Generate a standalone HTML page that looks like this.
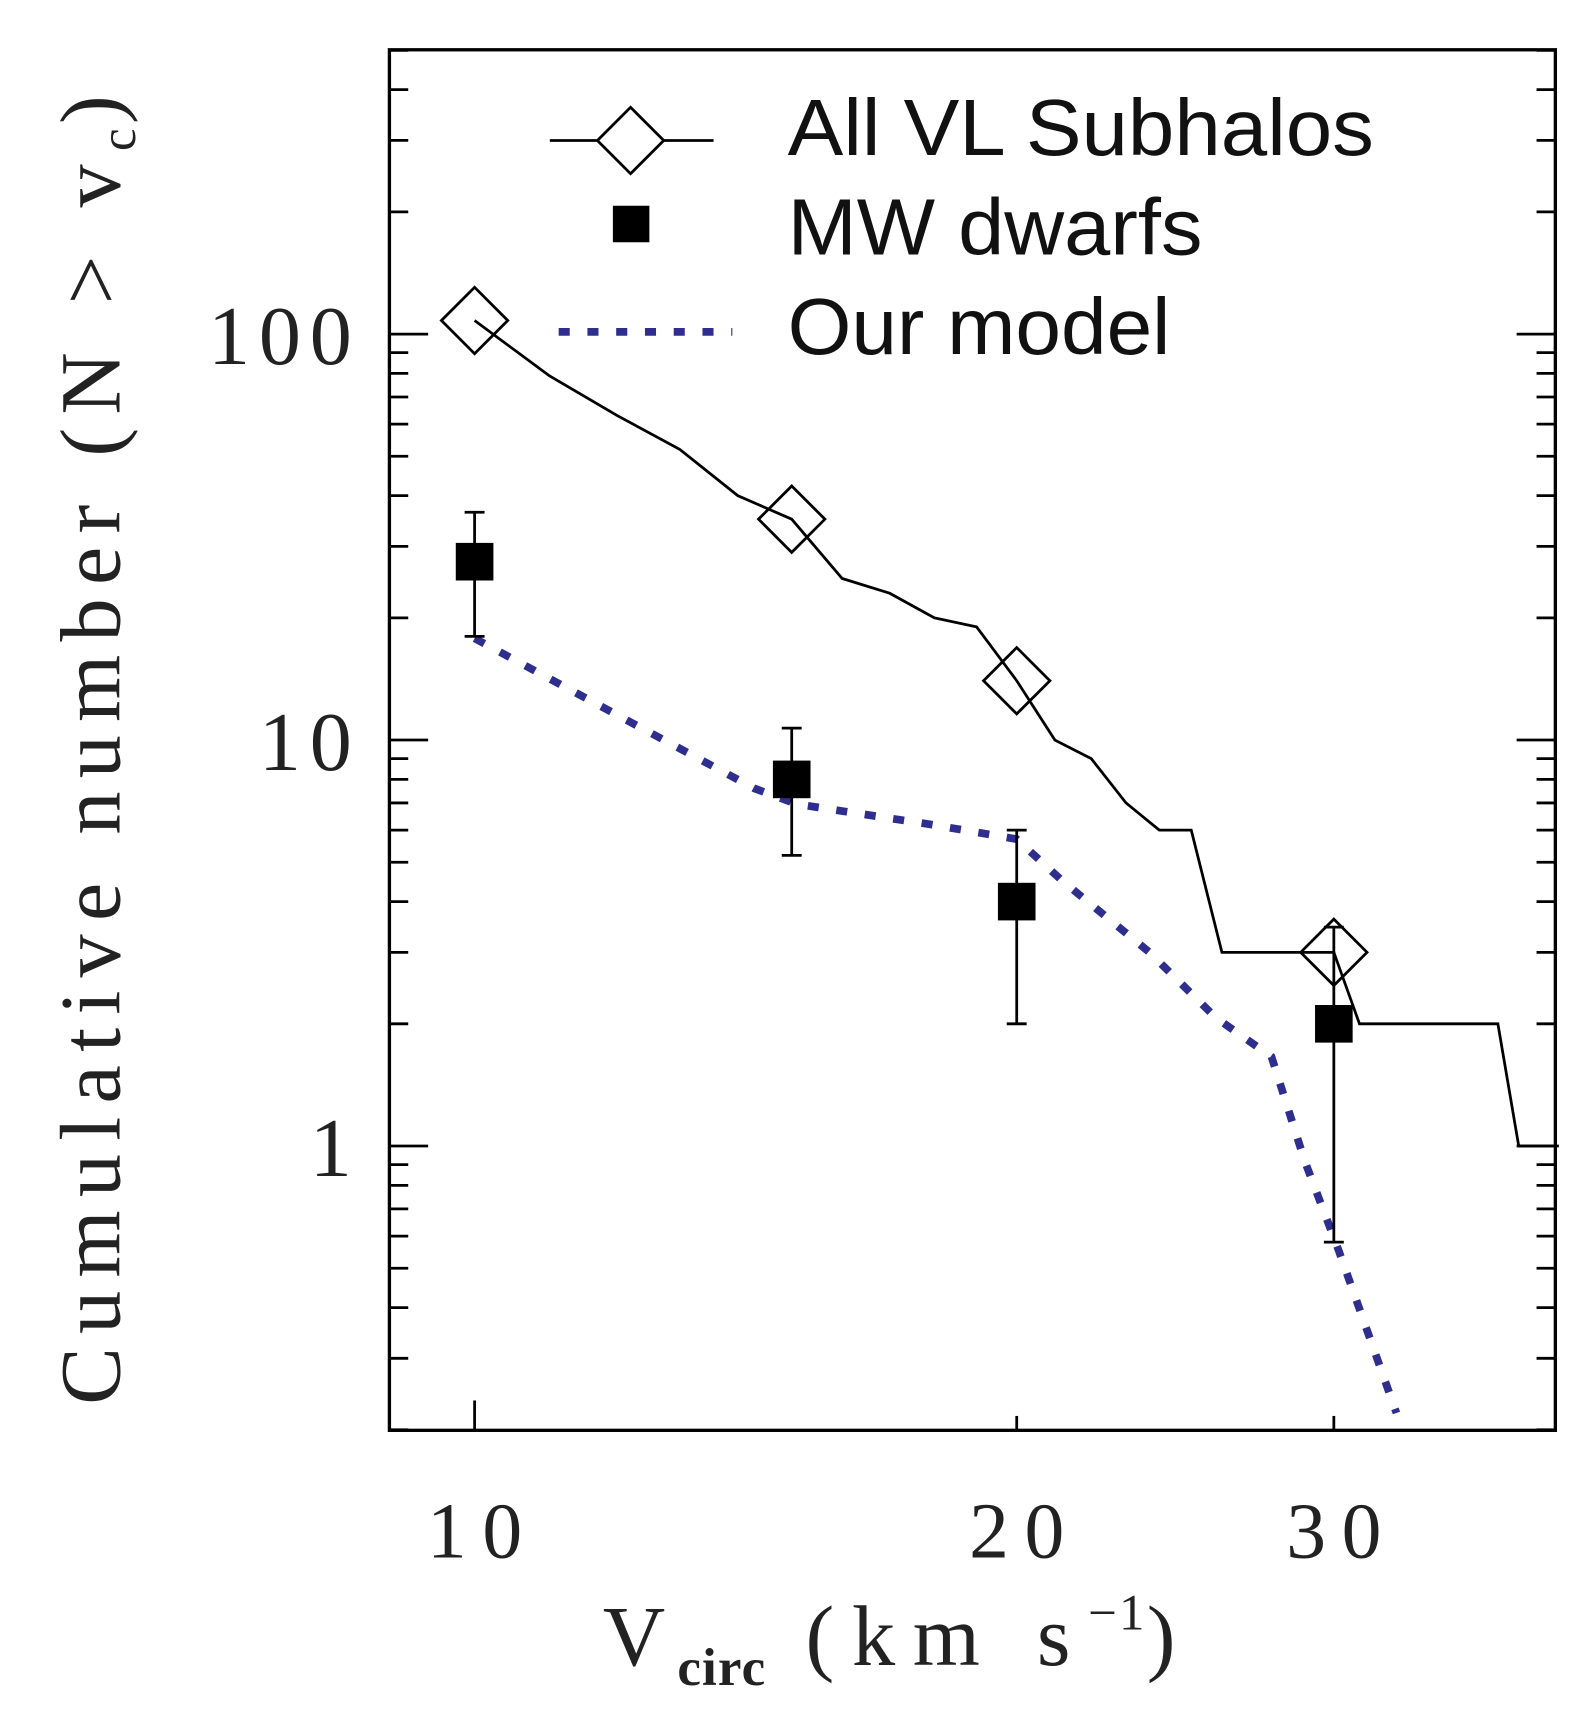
<!DOCTYPE html>
<html><head><meta charset="utf-8"><style>
html,body{margin:0;padding:0;background:#fff;}
svg{display:block;}
.tk{font-family:"Liberation Serif",serif;fill:#222;}
.lg{font-family:"Liberation Sans",sans-serif;fill:#111;}
</style></head><body>
<svg id="chart" width="1593" height="1729" viewBox="0 0 1440 1563" xmlns="http://www.w3.org/2000/svg">
<rect x="0" y="0" width="1440" height="1563" fill="#fff"/>
<g id="marks"></g>
<rect x="352" y="45" width="1054" height="1248" fill="none" stroke="#000" stroke-width="3"/>
<g id="ticks"></g>
<g>
  <line x1="497" y1="127" x2="645" y2="127" stroke="#000" stroke-width="2.5"/>
  <path d="M570,97 L600,127 L570,157 L540,127 Z" fill="#fff" stroke="#000" stroke-width="2.5"/>
  <text class="lg" x="712" y="140" font-size="72" textLength="530" lengthAdjust="spacingAndGlyphs">All VL Subhalos</text>
  <rect x="554" y="186" width="33" height="33" fill="#000"/>
  <text class="lg" x="712" y="230" font-size="72" textLength="375" lengthAdjust="spacingAndGlyphs">MW dwarfs</text>
  <line x1="505" y1="300" x2="662" y2="300" stroke="#2e2e8f" stroke-width="7" stroke-dasharray="10,16"/>
  <text class="lg" x="712" y="320" font-size="72" textLength="346" lengthAdjust="spacingAndGlyphs">Our model</text>
</g>
<text class="tk" x="545" y="1505" font-size="78" letter-spacing="11">V<tspan font-size="48" dy="18" letter-spacing="1" font-weight="bold">circ</tspan><tspan dy="-18" letter-spacing="16"> (km s</tspan><tspan font-size="46" dy="-32" letter-spacing="2">−1</tspan><tspan dy="32" letter-spacing="11">)</tspan></text>
<text class="tk" transform="translate(108,672) rotate(-90)" text-anchor="middle" font-size="78" letter-spacing="12">Cumulative number (N &gt; v<tspan font-size="46" dy="14" letter-spacing="4">c</tspan><tspan dy="-14">)</tspan></text>
</svg>
<script>
const subX=[10,11,12,13,14,15,16,17,18,19,20,21,22,23,24,25,26,30,31,37,38,40];
const subY=[108,79,63,52,40,35,25,23,20,19,14,10,9,7,6,6,3,3,2,2,1,1];
const diaX=[10,15,20,30];
const diaY=[108,35,14,3];
const mwX=[10,15,20,30];
const mwY=[27.5,8,4,2];
const mwHi=[36.4,10.7,6,3.46];
const mwLo=[18,5.2,2,0.58];
const modX=[10,12.1,14.3,15.1,17.9,20,21.2,23.7,25.8,27.7,28.9,30.2,32.5];
const modY=[17.8,11.3,7.6,6.95,6.2,5.7,4.5,3.0,2.07,1.66,0.92,0.55,0.22];
const yTicks=[1,10,100];
const yTickLabels=["1","10","100"];
const xTicks=[10,20,30];
const xTickLabels=["10","20","30"];
const X=v=>429+1628*(Math.log10(v)-1);
const Y=v=>1036-367*Math.log10(v);
const NS="http://www.w3.org/2000/svg";
const marks=document.getElementById('marks'), ticks=document.getElementById('ticks');
function mk(t,a,p){const e=document.createElementNS(NS,t);for(const k in a)e.setAttribute(k,a[k]);p.appendChild(e);return e;}
let l=mk('polyline',{points:subX.map((x,i)=>X(x)+','+Y(subY[i])).join(' '),fill:'none',stroke:'#000','stroke-width':2.5},marks);


let m=mk('polyline',{points:modX.map((x,i)=>X(x)+','+Y(modY[i])).join(' '),fill:'none',stroke:'#2e2e8f','stroke-width':7,'stroke-dasharray':'10,16'},marks);


diaX.forEach((x,i)=>{const cx=X(x),cy=Y(diaY[i]);
 const d=mk('path',{d:`M${cx},${cy-30} L${cx+30},${cy} L${cx},${cy+30} L${cx-30},${cy} Z`,fill:'none',stroke:'#000','stroke-width':2.5},marks);
 
 });
mwX.forEach((x,i)=>{const cx=X(x);
 const e=mk('path',{d:`M${cx},${Y(mwHi[i])} V${Y(mwLo[i])} M${cx-9},${Y(mwHi[i])} H${cx+9} M${cx-9},${Y(mwLo[i])} H${cx+9}`,stroke:'#000','stroke-width':2.5,fill:'none'},marks);
 
 
 const r=mk('rect',{x:cx-17,y:Y(mwY[i])-17,width:34,height:34,fill:'#000'},marks);
 
 });
for(let dec=0.1;dec<=100;dec*=10){for(let k=1;k<=9;k++){const v=dec*k;if(v<0.2||v>500)continue;const y=Y(v);const len=(k===1)?35:17;
 mk('line',{x1:352,y1:y,x2:352+len,y2:y,stroke:'#000','stroke-width':2.5},ticks);
 mk('line',{x1:1406,y1:y,x2:1406-len,y2:y,stroke:'#000','stroke-width':2.5},ticks);}}
yTicks.forEach((v,i)=>{const t=mk('text',{x:326,y:Y(v)+27,'text-anchor':'end','font-size':76,class:'tk','letter-spacing':8},ticks);t.textContent=yTickLabels[i];
 
 });
xTicks.forEach((v,i)=>{const x=X(v);const len=(v===10)?27:13;
 mk('line',{x1:x,y1:1293,x2:x,y2:1293-len,stroke:'#000','stroke-width':2.5},ticks);
 const t=mk('text',{x:x+7,y:1408,'text-anchor':'middle','font-size':72,class:'tk','letter-spacing':14},ticks);t.textContent=xTickLabels[i];
 
 });
</script>
</body></html>
